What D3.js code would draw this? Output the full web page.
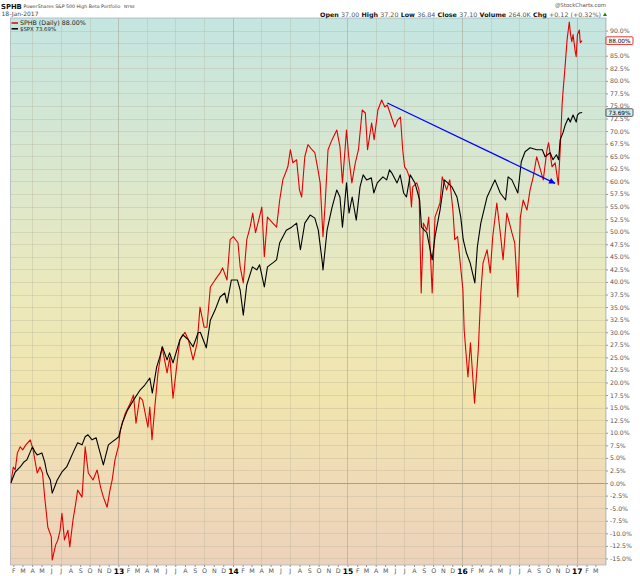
<!DOCTYPE html>
<html>
<head>
<meta charset="utf-8">
<script src="https://cdn.jsdelivr.net/npm/d3@7"></script>
<style>
body{margin:0;background:#fff;}
text{font-family:"DejaVu Sans",Verdana,sans-serif;}
</style>
</head>
<body>
<script>
// % change since 24-Jan-2012
const sphbData=[
["2012-01-24",0],["2012-02-01",3.2],["2012-02-07",2.6],["2012-02-14",6.0],["2012-02-23",7.2],
["2012-03-02",6.6],["2012-03-12",7.6],["2012-03-26",8.6],["2012-04-04",6.6],["2012-04-17",2.0],
["2012-04-26",3.2],["2012-05-04",2.0],["2012-05-11",-2.8],["2012-05-21",-8.8],["2012-06-01",-10.7],
["2012-06-04",-15.3],["2012-06-15",-12.3],["2012-06-22",-11.3],["2012-06-29",-9.4],["2012-07-05",-6.0],
["2012-07-13",-11.3],["2012-07-24",-9.4],["2012-07-30",-12.7],["2012-08-09",-7.4],["2012-08-17",-4.4],
["2012-08-24",-1.4],["2012-09-07",-2.8],["2012-09-17",7.2],["2012-09-27",2.0],["2012-10-12",0.6],
["2012-10-25",2.6],["2012-11-05",-0.8],["2012-11-14",-2.8],["2012-11-26",-4.8],["2012-12-05",-1.4],
["2012-12-12",0.6],["2012-12-21",4.6],["2013-01-02",7.6],["2013-01-07",10.5],["2013-01-23",13.9],
["2013-02-08",15.9],["2013-02-18",17.5],["2013-02-26",11.9],["2013-03-10",17.1],["2013-03-19",16.5],
["2013-04-05",11.1],["2013-04-11",15.1],["2013-04-18",8.6],["2013-04-27",15.1],["2013-05-07",21.9],
["2013-05-20",27.1],["2013-06-05",21.9],["2013-06-14",25.1],["2013-06-24",16.9],["2013-07-08",24.5],
["2013-07-16",28.5],["2013-08-01",30.0],["2013-08-12",28.5],["2013-08-27",24.5],["2013-09-09",27.9],
["2013-09-18",35.0],["2013-10-01",31.0],["2013-10-10",31.0],["2013-10-21",39.0],["2013-11-05",40.4],
["2013-11-21",41.8],["2013-11-29",42.8],["2013-12-13",40.4],["2013-12-23",48.4],["2014-01-02",49.0],
["2014-01-17",47.8],["2014-01-24",43.0],["2014-02-03",39.8],["2014-02-14",48.4],["2014-02-25",51.0],
["2014-03-05",53.7],["2014-03-14",49.8],["2014-03-24",52.3],["2014-04-03",54.9],["2014-04-11",45.0],
["2014-04-21",52.9],["2014-05-08",51.7],["2014-05-20",50.9],["2014-05-30",56.3],["2014-06-09",60.3],
["2014-06-25",62.9],["2014-07-03",66.3],["2014-07-11",63.7],["2014-07-23",64.3],["2014-08-01",58.3],
["2014-08-08",56.9],["2014-08-18",64.9],["2014-08-28",67.3],["2014-09-10",66.3],["2014-09-19",65.7],
["2014-09-29",62.3],["2014-10-06",59.7],["2014-10-15",49.0],["2014-10-22",55.7],["2014-10-31",66.3],
["2014-11-13",68.3],["2014-11-28",70.2],["2014-12-08",66.9],["2014-12-16",59.7],["2014-12-29",70.2],
["2015-01-05",64.9],["2015-01-15",59.7],["2015-01-26",63.7],["2015-02-05",66.3],["2015-02-17",74.2],
["2015-02-27",73.6],["2015-03-06",66.3],["2015-03-19",71.6],["2015-03-27",68.3],["2015-04-08",74.2],
["2015-04-20",76.2],["2015-04-30",74.8],["2015-05-08",75.2],["2015-05-21",72.8],["2015-06-01",70.8],
["2015-06-10",72.2],["2015-06-19",72.8],["2015-06-26",66.3],["2015-07-02",62.9],["2015-07-09",62.3],
["2015-07-17",60.9],["2015-07-24",54.9],["2015-07-28",58.9],["2015-08-10",59.7],["2015-08-17",58.3],
["2015-08-24",37.8],["2015-08-31",51.7],["2015-09-11",50.3],["2015-09-17",52.9],["2015-09-28",37.8],
["2015-10-07",52.9],["2015-10-23",55.7],["2015-10-30",60.9],["2015-11-13",58.3],["2015-11-23",60.3],
["2015-12-03",54.3],["2015-12-09",48.4],["2015-12-18",49.0],["2016-01-04",38.4],["2016-01-08",30.4],
["2016-01-20",21.1],["2016-01-28",27.9],["2016-02-10",15.9],["2016-02-22",26.5],["2016-03-01",37.8],
["2016-03-08",43.8],["2016-03-21",46.4],["2016-03-31",41.8],["2016-04-08",49.0],["2016-04-21",55.7],
["2016-05-02",49.8],["2016-05-11",44.4],["2016-05-23",53.7],["2016-06-08",49.8],["2016-06-17",47.8],
["2016-06-27",37.0],["2016-07-05",52.9],["2016-07-14",56.3],["2016-07-26",54.3],["2016-08-05",58.3],
["2016-08-15",60.9],["2016-08-26",64.9],["2016-09-07",62.3],["2016-09-16",60.3],["2016-09-28",66.3],
["2016-10-03",67.7],["2016-10-14",62.9],["2016-10-24",63.7],["2016-11-03",59.3],["2016-11-09",66.3],
["2016-11-15",75.2],["2016-11-18",77.8],["2016-11-25",83.2],["2016-12-01",88.2],["2016-12-08",91.7],
["2016-12-12",89.2],["2016-12-16",87.8],["2016-12-20",89.2],["2016-12-27",85.8],["2016-12-30",84.8],
["2017-01-03",89.2],["2017-01-09",90.1],["2017-01-12",87.6],["2017-01-18",88.0]
];
const spxData=[
["2012-01-24",0],["2012-02-07",2.2],["2012-02-23",3.2],["2012-03-06",4.2],["2012-03-15",4.6],
["2012-03-26",6.2],["2012-04-02",7.2],["2012-04-10",6.2],["2012-04-17",5.6],["2012-05-02",6.0],
["2012-05-11",4.2],["2012-05-18",2.0],["2012-05-29",0.6],["2012-06-04",-2.0],["2012-06-14",-0.4],
["2012-06-20",0.6],["2012-07-05",2.2],["2012-07-20",3.2],["2012-07-30",4.6],["2012-08-09",6.0],
["2012-08-24",8.0],["2012-09-07",7.6],["2012-09-17",9.2],["2012-09-26",9.6],["2012-10-09",8.6],
["2012-10-22",9.0],["2012-10-26",8.0],["2012-11-14",3.6],["2012-11-30",7.6],["2012-12-12",8.2],
["2012-12-21",8.6],["2013-01-02",9.2],["2013-01-14",12.1],["2013-01-30",14.5],["2013-02-18",16.5],
["2013-03-11",18.5],["2013-03-26",19.5],["2013-04-11",20.9],["2013-04-19",17.9],["2013-05-03",23.1],
["2013-05-13",25.1],["2013-05-21",27.1],["2013-06-05",24.5],["2013-06-13",25.9],["2013-06-24",23.9],
["2013-07-16",28.5],["2013-07-25",29.5],["2013-08-12",28.5],["2013-08-27",27.1],["2013-09-12",29.9],
["2013-09-19",30.0],["2013-10-08",26.9],["2013-10-21",32.4],["2013-11-05",34.4],["2013-11-21",37.0],
["2013-12-06",37.8],["2013-12-13",35.8],["2013-12-27",40.4],["2014-01-15",40.4],["2014-01-24",38.4],
["2014-02-03",33.4],["2014-02-14",39.4],["2014-03-04",43.0],["2014-03-18",42.4],["2014-03-27",43.4],
["2014-04-11",39.0],["2014-04-21",43.0],["2014-05-08",43.8],["2014-05-20",44.4],["2014-05-30",47.8],
["2014-06-20",50.3],["2014-07-07",50.9],["2014-07-23",51.7],["2014-08-04",46.4],["2014-08-18",51.7],
["2014-09-04",53.3],["2014-09-19",52.7],["2014-09-30",50.3],["2014-10-13",43.8],["2014-10-15",42.4],
["2014-10-28",50.3],["2014-11-13",54.9],["2014-11-28",58.3],["2014-12-08",56.9],["2014-12-16",50.9],
["2014-12-29",59.7],["2015-01-06",53.7],["2015-01-16",56.9],["2015-01-29",52.3],["2015-02-10",58.9],
["2015-02-20",61.3],["2015-03-03",60.3],["2015-03-18",60.7],["2015-03-26",57.7],["2015-04-06",59.7],
["2015-04-24",60.9],["2015-05-06",60.3],["2015-05-15",62.3],["2015-05-22",61.7],["2015-06-08",59.7],
["2015-06-18",61.3],["2015-06-29",57.7],["2015-07-08",56.9],["2015-07-20",61.3],["2015-08-04",59.7],
["2015-08-19",56.3],["2015-08-25",50.9],["2015-09-11",49.8],["2015-09-28",44.4],["2015-10-07",49.0],
["2015-10-23",54.3],["2015-11-06",60.3],["2015-11-30",58.9],["2015-12-16",56.9],["2015-12-28",52.9],
["2016-01-05",48.4],["2016-01-15",45.8],["2016-01-27",43.8],["2016-02-11",39.8],["2016-02-19",47.0],
["2016-03-01",51.7],["2016-03-21",56.9],["2016-04-15",60.3],["2016-05-02",57.7],["2016-05-19",56.3],
["2016-05-27",60.9],["2016-06-08",60.3],["2016-06-27",57.7],["2016-07-08",63.9],["2016-07-20",65.9],
["2016-08-05",66.7],["2016-08-26",66.3],["2016-09-13",66.3],["2016-09-22",64.9],["2016-10-08",65.7],
["2016-10-17",64.3],["2016-10-28",65.3],["2016-11-04",64.3],["2016-11-09",68.3],["2016-11-18",69.7],
["2016-11-25",71.2],["2016-12-05",72.6],["2016-12-11",71.8],["2016-12-20",73.2],["2016-12-30",71.8],
["2017-01-03",73.2],["2017-01-09",73.6],["2017-01-18",73.69]
];
const yTicks=[90,87.5,85,82.5,80,77.5,75,72.5,70,67.5,65,62.5,60,57.5,55,52.5,50,47.5,45,42.5,40,37.5,35,32.5,30,27.5,25,22.5,20,17.5,15,12.5,10,7.5,5,2.5,0,-2.5,-5,-7.5,-10,-12.5,-15];
const monthLetters=['J','F','M','A','M','J','J','A','S','O','N','D'];
const quote=[['Open','37.00'],['High','37.20'],['Low','36.84'],['Close','37.10'],['Volume','264.0K'],['Chg','+0.12 (+0.32%)']];
const lastSphb=88.00;
const lastSpx=73.69;
// trend arrow drawn on the chart
const arrowFrom=['2015-05-08',75.6];
const arrowTo=['2016-10-24',59.6];

const w=640,h=576;
const plotL=10.5,plotR=606,plotT=18,plotB=565;
const parse=d3.timeParse('%Y-%m-%d');

const xScale=d3.scaleTime().domain([parse('2012-01-23'),parse('2017-04-04')]).range([plotL,plotR]);
const yScale=d3.scaleLinear().domain([-16.3,92.5]).range([plotB,plotT]);

const svg=d3.select('body').append('svg').attr('width',w).attr('height',h);
const defs=svg.append('defs');

// background gradient teal -> yellow -> peach
const grad=defs.append('linearGradient').attr('id','bg').attr('x1',0).attr('y1',0).attr('x2',0).attr('y2',1);
[[0,'#c4e5e1'],[0.25,'#d8e7d0'],[0.5,'#ebe9bc'],[0.7,'#f1e4ad'],[0.86,'#efdab8'],[1,'#ecd2ba']]
  .forEach(s=>grad.append('stop').attr('offset',s[0]).attr('stop-color',s[1]));
defs.append('clipPath').attr('id','plot').append('rect')
  .attr('x',plotL).attr('y',plotT).attr('width',plotR-plotL).attr('height',plotB-plotT);
defs.append('marker').attr('id','ah').attr('viewBox','0 0 10 10').attr('refX',10).attr('refY',5)
  .attr('markerWidth',9).attr('markerHeight',6).attr('markerUnits','userSpaceOnUse').attr('orient','auto')
  .append('path').attr('d','M0,0L10,5L0,10z').attr('fill','#0000ff');

svg.append('rect').attr('x',plotL).attr('y',plotT).attr('width',plotR-plotL).attr('height',plotB-plotT).attr('fill','url(#bg)');

// grid
svg.append('g').selectAll('line').data(yTicks).enter().append('line')
  .attr('x1',plotL).attr('x2',plotR).attr('y1',d=>Math.round(yScale(d))+0.5).attr('y2',d=>Math.round(yScale(d))+0.5)
  .attr('stroke',d=>d===0?'#9a9a8a':'#b8b39a').attr('stroke-opacity',d=>d===0?0.9:0.45).attr('stroke-width',d=>d===0?1:0.8);
const quarters=d3.timeMonth.every(3).range(xScale.domain()[0],xScale.domain()[1]);
svg.append('g').selectAll('line').data(quarters).enter().append('line')
  .attr('y1',plotT).attr('y2',plotB).attr('x1',d=>Math.round(xScale(d))+0.5).attr('x2',d=>Math.round(xScale(d))+0.5)
  .attr('stroke',d=>d.getMonth()===0?'#a8a48e':'#b8b39a').attr('stroke-opacity',d=>d.getMonth()===0?0.7:0.45).attr('stroke-width',0.8);

svg.append('rect').attr('x',plotL).attr('y',plotT).attr('width',plotR-plotL).attr('height',plotB-plotT)
  .attr('fill','none').attr('stroke','#a9b4bb').attr('stroke-width',0.8);

// price lines
const line=d3.line().x(d=>xScale(parse(d[0]))).y(d=>yScale(d[1]));
const lines=svg.append('g').attr('clip-path','url(#plot)');
lines.append('path').datum(sphbData).attr('d',line).attr('fill','none').attr('stroke','#e30000').attr('stroke-width',1.1).attr('stroke-linejoin','round');
lines.append('path').datum(spxData).attr('d',line).attr('fill','none').attr('stroke','#000').attr('stroke-width',1.1).attr('stroke-linejoin','round');

// arrow
svg.append('line')
  .attr('x1',xScale(parse(arrowFrom[0]))).attr('y1',yScale(arrowFrom[1]))
  .attr('x2',xScale(parse(arrowTo[0]))).attr('y2',yScale(arrowTo[1]))
  .attr('stroke','#0000ff').attr('stroke-width',1.2).attr('marker-end','url(#ah)');

// axes
const months=d3.timeMonth.range(parse('2012-02-01'),parse('2017-03-02'));
const xAxis=d3.axisBottom(xScale).tickValues(months).tickSize(2).tickPadding(1.5)
  .tickFormat(d=>d.getMonth()===0?d3.timeFormat('%y')(d):monthLetters[d.getMonth()]);
const gx=svg.append('g').attr('transform','translate(0,'+plotB+')').call(xAxis);
gx.select('.domain').remove();
gx.selectAll('line').attr('stroke','#999');
gx.selectAll('text').attr('font-family','"DejaVu Sans",sans-serif').attr('font-size','6.3px').attr('fill','#555');
gx.selectAll('.tick').filter(d=>d.getMonth()===0).select('text')
  .attr('font-size','7.5px').attr('font-weight','bold').attr('fill','#000');

// the 87.5% label sits under the SPHB value tag
const yAxis=d3.axisRight(yScale).tickValues(yTicks).tickSize(2).tickPadding(2)
  .tickFormat(d=>d===87.5?'':d.toFixed(1)+'%');
const gy=svg.append('g').attr('transform','translate('+plotR+',0)').call(yAxis);
gy.select('.domain').remove();
gy.selectAll('line').attr('stroke','#999');
gy.selectAll('text').attr('font-family','"DejaVu Sans",sans-serif').attr('font-size','6.2px').attr('fill','#555');

// last value tags
function tag(v,border,fill){
  const y=yScale(v);
  svg.append('rect').attr('x',plotR).attr('y',y-3.8).attr('width',27).attr('height',7.6)
    .attr('fill',fill).attr('stroke',border).attr('stroke-width',0.8).attr('rx',1);
  svg.append('text').attr('x',plotR+13.5).attr('y',y+2).attr('text-anchor','middle')
    .attr('font-size','5.8px').attr('fill','#000').text(v.toFixed(2)+'%');
}
tag(lastSphb,'#e30000','#ffffff');
tag(lastSpx,'#333','#cfeff5');

// legend
svg.append('line').attr('x1',11.5).attr('x2',18).attr('y1',23).attr('y2',23).attr('stroke','#e30000').attr('stroke-width',1.5);
svg.append('text').attr('x',20).attr('y',25).attr('font-family','"DejaVu Sans Mono",monospace').attr('font-size','6.3px').attr('fill','#222')
  .text('SPHB (Daily) '+lastSphb.toFixed(2)+'%');
svg.append('line').attr('x1',11.5).attr('x2',18).attr('y1',28.8).attr('y2',28.8).attr('stroke','#000').attr('stroke-width',1.5);
svg.append('text').attr('x',20).attr('y',31).attr('font-size','5.4px').attr('fill','#222')
  .text('$SPX '+lastSpx.toFixed(2)+'%');

// header
svg.append('text').attr('x',1).attr('y',8.5).attr('font-size','6.8px').attr('font-weight','bold').attr('fill','#111').text('SPHB');
svg.append('text').attr('x',23.5).attr('y',8.3).attr('font-size','4.7px').attr('fill','#444')
  .text('PowerShares S&P 500 High Beta Portfolio');
svg.append('text').attr('x',124).attr('y',8.3).attr('font-size','4.1px').attr('fill','#444').text('NYSE');
svg.append('text').attr('x',1.5).attr('y',16.3).attr('font-size','6px').attr('fill','#444')
  .attr('textLength',37).attr('lengthAdjust','spacingAndGlyphs').text('18-Jan-2017');
svg.append('text').attr('x',606).attr('y',7.2).attr('text-anchor','end').attr('font-size','5.5px').attr('fill','#555')
  .attr('textLength',51).attr('lengthAdjust','spacingAndGlyphs').text('@StockCharts.com');

const q=svg.append('text').attr('x',320).attr('y',16.5).attr('font-size','6.2px').attr('fill','#555')
  .attr('textLength',281).attr('lengthAdjust','spacingAndGlyphs');
quote.forEach((p,i)=>{
  q.append('tspan').attr('font-weight','bold').attr('fill','#111').text((i?' ':'')+p[0]+' ');
  q.append('tspan').text(p[1]);
});
svg.append('path').attr('d','M603,16L607,16L605,12.5Z').attr('fill','#0a8a0a');
</script>
</body>
</html>
